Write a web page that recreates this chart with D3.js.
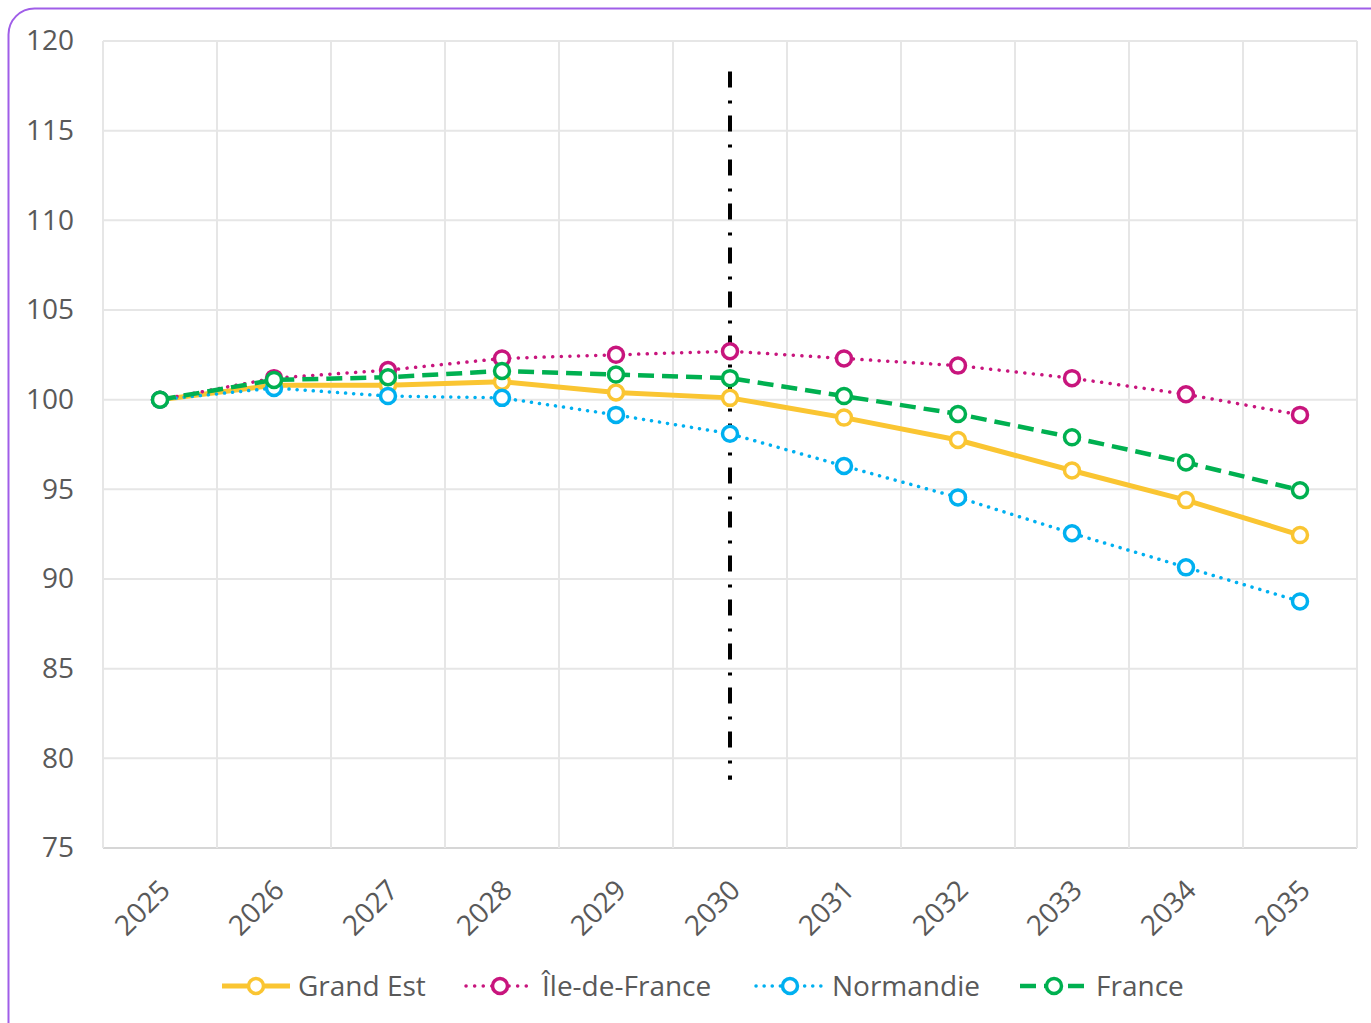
<!DOCTYPE html>
<html>
<head>
<meta charset="utf-8">
<script src="https://cdn.jsdelivr.net/npm/d3@7"></script>
<style>
  body { margin: 0; background: #fff; }
  svg { display: block; font-family: "Open Sans", sans-serif; }
</style>
</head>
<body>
<svg id="chart" width="1371" height="1023"></svg>
<script>
var years = ["2025", "2026", "2027", "2028", "2029", "2030", "2031", "2032", "2033", "2034", "2035"];
var grandEst = [100, 100.8, 100.8, 101.0, 100.4, 100.1, 99.0, 97.75, 96.05, 94.4, 92.45];
var ileDeFrance = [100, 101.2, 101.65, 102.3, 102.5, 102.7, 102.3, 101.9, 101.2, 100.3, 99.15];
var normandie = [100, 100.65, 100.2, 100.1, 99.15, 98.1, 96.3, 94.55, 92.55, 90.65, 88.75];
var france = [100, 101.1, 101.25, 101.6, 101.4, 101.2, 100.2, 99.2, 97.9, 96.5, 94.95];
var yTicks = [75, 80, 85, 90, 95, 100, 105, 110, 115, 120];
var markerYear = "2030";

var series = [
  { name: "Grand Est", values: grandEst, color: "#FAC532", width: 5, dash: null, cap: "butt" },
  { name: "Île-de-France", values: ileDeFrance, color: "#C8157D", width: 3.5, dash: "0.1 8.5", cap: "round" },
  { name: "Normandie", values: normandie, color: "#00B0F0", width: 3.5, dash: "0.1 8", cap: "round" },
  { name: "France", values: france, color: "#00B050", width: 4.5, dash: "16 8", cap: "butt" }
];

var w = 1371, h = 1023;
var margin = { top: 41, right: 14, bottom: 175, left: 103 };

var svg = d3.select("#chart");

// frame
svg.append("rect")
  .attr("x", 8.5).attr("y", 8.5)
  .attr("width", 1400).attr("height", 1040)
  .attr("rx", 26).attr("ry", 26)
  .attr("fill", "none")
  .attr("stroke", "#A05EE8")
  .attr("stroke-width", 2);

var x = d3.scaleBand()
  .domain(years)
  .range([margin.left, w - margin.right]);

var y = d3.scaleLinear()
  .domain([75, 120])
  .range([h - margin.bottom, margin.top]);

// grid
svg.append("g")
  .selectAll("line")
  .data(yTicks)
  .enter()
  .append("line")
  .attr("x1", margin.left).attr("x2", w - margin.right)
  .attr("y1", function(d) { return y(d); })
  .attr("y2", function(d) { return y(d); })
  .attr("stroke", function(d) { return d === 75 ? "#D6D6D6" : "#E6E6E6"; })
  .attr("stroke-width", 2);

svg.append("g")
  .selectAll("line")
  .data(years.concat(["end"]))
  .enter()
  .append("line")
  .attr("x1", function(d, i) { return margin.left + i * x.step(); })
  .attr("x2", function(d, i) { return margin.left + i * x.step(); })
  .attr("y1", margin.top)
  .attr("y2", h - margin.bottom)
  .attr("stroke", "#E6E6E6")
  .attr("stroke-width", 2);

// y axis labels
svg.append("g")
  .attr("transform", "translate(" + (margin.left - 29) + ",0)")
  .call(d3.axisLeft(y).tickValues(yTicks).tickSize(0).tickPadding(0))
  .call(function(g) { g.select(".domain").remove(); })
  .selectAll("text")
  .attr("fill", "#595959")
  .style("font-size", "28px")
  .style("font-family", "'Open Sans', sans-serif");

// x axis labels
svg.append("g")
  .selectAll("text")
  .data(years)
  .enter()
  .append("text")
  .attr("transform", function(d) {
    return "translate(" + (x(d) + x.bandwidth() / 2 - 2) + "," + (h - margin.bottom + 30) + ") rotate(-45)";
  })
  .attr("text-anchor", "end")
  .attr("dy", "0.7em")
  .attr("fill", "#595959")
  .style("font-size", "28px")
  .text(function(d) { return d; });

// vertical dash-dot marker
var cx = x(markerYear) + x.bandwidth() / 2;
svg.append("line")
  .attr("x1", cx).attr("x2", cx)
  .attr("y1", y(118.3)).attr("y2", y(78.8))
  .attr("stroke", "#000")
  .attr("stroke-width", 4)
  .attr("stroke-dasharray", "16 13 3 12");

var line = d3.line()
  .x(function(d, i) { return x(years[i]) + x.bandwidth() / 2; })
  .y(function(d) { return y(d); });

series.forEach(function(s) {
  var g = svg.append("g");
  g.append("path")
    .attr("d", line(s.values))
    .attr("fill", "none")
    .attr("stroke", s.color)
    .attr("stroke-width", s.width)
    .attr("stroke-linecap", s.cap)
    .attr("stroke-linejoin", "round")
    .attr("stroke-dasharray", s.dash);
  g.selectAll("circle")
    .data(s.values)
    .enter()
    .append("circle")
    .attr("cx", function(d, i) { return x(years[i]) + x.bandwidth() / 2; })
    .attr("cy", function(d) { return y(d); })
    .attr("r", 7.5)
    .attr("fill", "#fff")
    .attr("stroke", s.color)
    .attr("stroke-width", 3.5);
});

// legend
var legendX = [222, 466, 756, 1020];
var legend = svg.append("g").attr("transform", "translate(0,986)");
series.forEach(function(s, i) {
  var lg = legend.append("g").attr("transform", "translate(" + legendX[i] + ",0)");
  lg.append("line")
    .attr("x1", 0).attr("x2", 68)
    .attr("y1", 0).attr("y2", 0)
    .attr("stroke", s.color)
    .attr("stroke-width", s.width)
    .attr("stroke-linecap", s.cap)
    .attr("stroke-dasharray", s.dash);
  lg.append("circle")
    .attr("cx", 34).attr("cy", 0).attr("r", 7.5)
    .attr("fill", "#fff")
    .attr("stroke", s.color)
    .attr("stroke-width", 3.5);
  lg.append("text")
    .attr("x", 76).attr("y", 0)
    .attr("dy", "0.36em")
    .attr("fill", "#595959")
    .style("font-size", "28px")
    .text(s.name);
});
</script>
</body>
</html>
